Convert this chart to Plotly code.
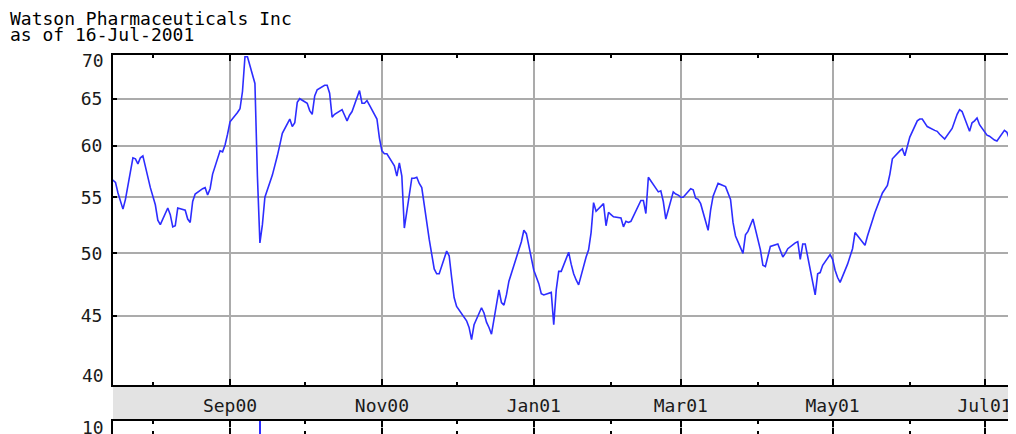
import math
import pandas as pd
import plotly.graph_objects as go

# ---------------- data ----------------
title_line1 = "Watson Pharmaceuticals Inc"
title_line2 = "as of 16-Jul-2001"

start_date = "2000-07-14"
end_date = "2001-07-16"

# daily closing prices (one value per weekday)
prices = [
    57.0,
    56.4, 55.4, 54.6, 53.9, 54.8,   # Jul 17
    58.8, 58.7, 58.2, 58.8, 59.0,   # Jul 24
    55.9, 55.2, 54.3, 52.9, 52.5,   # Jul 31
    54.0, 53.4, 52.3, 52.4, 54.0,   # Aug 7
    53.8, 53.0, 52.7, 54.6, 55.3,   # Aug 14
    55.8, 55.9, 55.2, 55.8, 57.2,   # Aug 21
    59.5, 59.4, 60.1, 61.2, 62.5,   # Aug 28
    63.5, 63.9, 65.8, 69.8, 69.8,   # Sep 4
    66.7, 57.0, 50.9, 52.5, 55.0,   # Sep 11
    57.1, 58.2, 59.0, 60.1, 61.3,   # Sep 18
    62.8, 62.0, 62.4, 64.6, 65.0,   # Sep 25
    64.5, 63.7, 63.3, 65.3, 66.0,   # Oct 2
    66.5, 66.5, 65.6, 63.0, 63.3,   # Oct 9
    63.8, 63.2, 62.6, 63.2, 63.6,   # Oct 16
    65.9, 64.5, 64.5, 64.8, 64.3,   # Oct 23
    62.8, 60.8, 59.5, 59.2, 59.2,   # Oct 30
    58.0, 57.0, 58.3, 57.0, 52.2,   # Nov 6
    56.8, 56.8, 56.9, 56.3, 55.9,   # Nov 13
    51.2, 49.8, 48.7, 48.3, 48.3,   # Nov 20
    50.2, 49.8, 48.0, 46.4, 45.7,   # Nov 27
    44.9, 44.6, 44.1, 43.2, 44.3,   # Dec 4
    45.6, 45.2, 44.5, 44.1, 43.6,   # Dec 11
    47.0, 46.0, 45.8, 46.6, 47.7,   # Dec 18
    49.7, 50.2, 51.0, 52.0, 51.7,   # Dec 25
    48.6, 48.1, 47.5, 46.7, 46.6,   # Jan 1
    46.8, 44.3, 47.0, 48.5, 48.5,   # Jan 8
    50.1, 49.1, 48.3, 47.8, 47.4,   # Jan 15
    49.7, 50.3, 51.8, 54.5, 53.7,   # Jan 22
    54.4, 52.4, 53.6, 53.4, 53.2,   # Jan 29
    53.1, 52.3, 52.8, 52.7, 52.8,   # Feb 5
    54.3, 54.7, 54.7, 53.5, 56.9,   # Feb 12
    55.8, 55.5, 55.6, 54.6, 53.0,   # Feb 19
    55.5, 55.3, 55.2, 55.0, 55.0,   # Feb 26
    55.8, 55.7, 54.9, 54.8, 54.4,   # Mar 5
    52.0, 53.8, 55.1, 55.7, 56.3,   # Mar 12
    56.0, 55.4, 54.8, 52.7, 51.5,   # Mar 19
    50.0, 51.6, 51.9, 52.5, 53.0,   # Mar 26
    50.3, 49.0, 48.9, 49.8, 50.6,   # Apr 2
    50.8, 50.3, 49.7, 50.0, 50.4,   # Apr 9
    50.9, 51.0, 49.5, 50.8, 50.8,   # Apr 16
    47.6, 46.6, 48.3, 48.4, 49.0,   # Apr 23
    49.9, 49.5, 48.6, 48.0, 47.6,   # Apr 30
    49.1, 49.7, 50.4, 51.8, 51.5,   # May 7
    50.7, 51.5, 52.2, 52.9, 53.6,   # May 14
    55.4, 55.8, 56.1, 57.2, 58.7,   # May 21
    59.5, 59.7, 59.0, 60.1, 60.9,   # May 28
    62.6, 62.8, 62.8, 62.4, 62.0,   # Jun 4
    61.6, 61.5, 61.2, 60.9, 60.7,   # Jun 11
    61.8, 62.6, 63.3, 63.8, 63.6,   # Jun 18
    61.5, 62.4, 62.6, 62.9, 62.2,   # Jun 25
    61.1, 61.0, 60.8, 60.6, 60.5,   # Jul 2
    61.6, 61.4, 60.7, 61.4, 61.8,   # Jul 9
    62.0,                           # Jul 16
]

major_months = ["2000-09-01", "2000-11-01", "2001-01-01",
                "2001-03-01", "2001-05-01", "2001-07-01"]
major_labels = ["Sep00", "Nov00", "Jan01", "Mar01", "May01", "Jul01"]
minor_months = ["2000-08-01", "2000-10-01", "2000-12-01",
                "2001-02-01", "2001-04-01", "2001-06-01"]

price_ticks = [40, 45, 50, 55, 60, 65, 70]
price_labels = ["", "45", "50", "55", "60", "65", ""]

vol_dates = ["2000-09-13"]
vol_values = [12.0]
vol_top = 10

# ---------------- figure ----------------
dates = pd.bdate_range(start_date, end_date)
assert len(dates) == len(prices)

# page body has an 8px margin: figure drawn at (8, 8) of the window
OFF = 8
W, H = 1016 - OFF, 434 - OFF
ML, MT = 113 - OFF, 55 - OFF
plot_h = H - MT
plot_w = W - ML
price_bottom_px = 385 - OFF
vol_top_px = 421 - OFF
price_dom = [(H - price_bottom_px) / plot_h, 1]
vol_dom = [0, (H - vol_top_px) / plot_h]

FONT = "DejaVu Sans Mono"
FS = 18
BLUE = "#2d2dff"
GRID = "#ababab"
TXT = "#1a1a1a"

fig = go.Figure()
fig.add_trace(go.Scatter(x=dates, y=prices, mode="lines",
                         line=dict(color=BLUE, width=1.6),
                         xaxis="x", yaxis="y", hoverinfo="skip"))
fig.add_trace(go.Bar(x=pd.to_datetime(vol_dates), y=vol_values,
                     marker=dict(color=BLUE, line=dict(width=0)),
                     width=0.45 * 86400000, xaxis="x2", yaxis="y2",
                     hoverinfo="skip"))

xcommon = dict(
    type="date",
    range=["2000-07-16", "2001-07-13 15:30"],
    tickmode="array",
    tickvals=major_months,
    ticks="inside", ticklen=6, tickwidth=1.5, tickcolor="black",
    showline=True, linecolor="black", linewidth=2,
    mirror="ticks",
    showgrid=True, gridcolor=GRID, gridwidth=1.5,
    minor=dict(tickvals=minor_months, ticks="inside", ticklen=3,
               tickwidth=1.5, tickcolor="black", showgrid=False),
    zeroline=False,
)

fig.update_layout(
    width=W, height=H,
    margin=dict(l=ML, r=0, t=MT, b=0, pad=0),
    paper_bgcolor="white", plot_bgcolor="white",
    showlegend=False, hovermode=False, bargap=0,
    font=dict(family=FONT, size=FS, color=TXT),
    xaxis=dict(**xcommon, anchor="y", ticktext=major_labels,
               tickfont=dict(family=FONT, size=FS, color=TXT),
               ticklabelstandoff=3),
    xaxis2=dict(**xcommon, anchor="y2", matches="x",
                ticktext=major_labels, showticklabels=False),
    yaxis=dict(domain=price_dom, type="log",
               range=[math.log10(40), math.log10(70)],
               tickmode="array", tickvals=price_ticks, ticktext=price_labels,
               ticks="inside", ticklen=4, tickwidth=1.5, tickcolor="black",
               showline=True, linecolor="black", linewidth=2,
               showgrid=True, gridcolor=GRID, gridwidth=1.5,
               zeroline=False, ticklabelstandoff=5,
               tickfont=dict(family=FONT, size=FS, color=TXT)),
    yaxis2=dict(domain=vol_dom, range=[0, vol_top],
                tickmode="array", tickvals=[vol_top], ticktext=[""],
                ticks="", showline=True, linecolor="black", linewidth=2,
                showgrid=False, zeroline=False),
)

# grey band holding the month labels
fig.add_shape(type="rect", xref="paper", yref="paper",
              x0=0, x1=1, y0=vol_dom[1], y1=price_dom[0],
              fillcolor="#e3e3e3", line=dict(width=0), layer="below")

# edge labels shifted inward as in the original
ann_font = dict(family=FONT, size=FS, color=TXT)
fig.add_annotation(text="70", xref="paper", x=0, yref="y", y=math.log10(70),
                   xanchor="right", yanchor="middle", xshift=-7, yshift=-5,
                   showarrow=False, font=ann_font)
fig.add_annotation(text="40", xref="paper", x=0, yref="y", y=math.log10(40),
                   xanchor="right", yanchor="middle", xshift=-7, yshift=10,
                   showarrow=False, font=ann_font)
fig.add_annotation(text=str(vol_top), xref="paper", x=0, yref="y2", y=vol_top,
                   xanchor="right", yanchor="middle", xshift=-7, yshift=-6,
                   showarrow=False, font=ann_font)

# title lines (top-left corner of the page)
fig.add_annotation(text=title_line1, xref="paper", yref="paper",
                   x=-ML / plot_w, y=(H - (18 - OFF)) / plot_h,
                   xanchor="left", yanchor="middle", showarrow=False,
                   font=dict(family=FONT, size=FS, color="black"))
fig.add_annotation(text=title_line2, xref="paper", yref="paper",
                   x=-ML / plot_w, y=(H - (35 - OFF)) / plot_h,
                   xanchor="left", yanchor="middle", showarrow=False,
                   font=dict(family=FONT, size=FS, color="black"))

fig.write_html("out.html")
